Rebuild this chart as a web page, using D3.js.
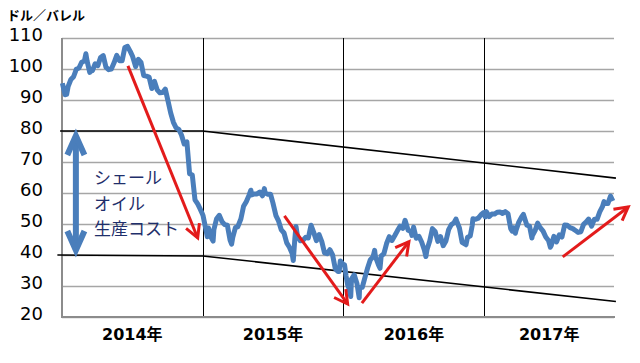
<!DOCTYPE html>
<html>
<head>
<meta charset="utf-8">
<script src="https://cdn.jsdelivr.net/npm/d3@7"></script>
<style>
  body { margin: 0; background: #fff; }
  svg { display: block; }
</style>
</head>
<body>
<div id="chart"></div>
<script>
// WTI daily-ish closes (USD / barrel)
var wti2014 = [
  ["2014-01-02", 95.4], ["2014-01-09", 91.7], ["2014-01-13", 91.8], ["2014-01-17", 94.4], ["2014-01-24", 96.6],
  ["2014-01-31", 97.5], ["2014-02-07", 99.9], ["2014-02-14", 100.3], ["2014-02-21", 102.2], ["2014-02-28", 102.6],
  ["2014-03-04", 104.9], ["2014-03-07", 102.6], ["2014-03-14", 98.9], ["2014-03-18", 99.7], ["2014-03-21", 99.5],
  ["2014-03-28", 101.7], ["2014-04-04", 101.1], ["2014-04-11", 103.7], ["2014-04-18", 104.3], ["2014-04-25", 100.6],
  ["2014-05-02", 99.8], ["2014-05-09", 100.0], ["2014-05-16", 102.0], ["2014-05-23", 104.4], ["2014-05-30", 102.7],
  ["2014-06-06", 102.7], ["2014-06-13", 106.9], ["2014-06-20", 107.3], ["2014-06-27", 105.7], ["2014-07-03", 104.1],
  ["2014-07-11", 100.8], ["2014-07-18", 103.1], ["2014-07-25", 102.1], ["2014-08-01", 97.9], ["2014-08-08", 97.7],
  ["2014-08-15", 97.4], ["2014-08-22", 93.7], ["2014-08-29", 96.0], ["2014-09-05", 93.3], ["2014-09-12", 92.3],
  ["2014-09-19", 92.4], ["2014-09-26", 93.5], ["2014-10-03", 89.7], ["2014-10-10", 85.8], ["2014-10-17", 82.8],
  ["2014-10-24", 81.0], ["2014-10-31", 80.5], ["2014-11-07", 78.7], ["2014-11-14", 75.8], ["2014-11-21", 76.5],
  ["2014-11-28", 66.2], ["2014-12-05", 65.8], ["2014-12-12", 57.8], ["2014-12-19", 56.5], ["2014-12-26", 54.7],
  ["2014-12-31", 53.3]
]
var wti2015 = [
  ["2015-01-02", 52.7], ["2015-01-09", 48.4], ["2015-01-13", 45.9], ["2015-01-16", 48.7], ["2015-01-23", 45.6],
  ["2015-01-28", 44.5], ["2015-01-30", 48.2], ["2015-02-06", 51.7], ["2015-02-13", 52.8], ["2015-02-20", 50.8],
  ["2015-02-27", 49.8], ["2015-03-06", 49.6], ["2015-03-13", 44.8], ["2015-03-17", 43.5], ["2015-03-20", 45.7],
  ["2015-03-27", 48.9], ["2015-04-02", 49.1], ["2015-04-10", 51.6], ["2015-04-17", 55.7], ["2015-04-24", 57.2],
  ["2015-05-01", 59.2], ["2015-05-06", 60.9], ["2015-05-08", 59.4], ["2015-05-15", 59.7], ["2015-05-22", 59.7],
  ["2015-05-29", 60.3], ["2015-06-05", 59.1], ["2015-06-10", 61.4], ["2015-06-12", 60.0], ["2015-06-19", 59.6],
  ["2015-06-26", 59.6], ["2015-07-02", 56.9], ["2015-07-10", 52.7], ["2015-07-17", 50.9], ["2015-07-24", 48.1],
  ["2015-07-31", 47.1], ["2015-08-07", 43.9], ["2015-08-14", 42.5], ["2015-08-21", 40.5], ["2015-08-24", 38.2],
  ["2015-08-28", 45.2], ["2015-08-31", 49.2], ["2015-09-04", 46.1], ["2015-09-11", 44.6], ["2015-09-18", 44.7],
  ["2015-09-25", 45.7], ["2015-10-02", 45.5], ["2015-10-09", 49.6], ["2015-10-16", 47.3], ["2015-10-23", 44.6],
  ["2015-10-30", 46.6], ["2015-11-06", 44.3], ["2015-11-13", 40.7], ["2015-11-20", 40.4], ["2015-11-27", 41.7],
  ["2015-12-04", 40.0], ["2015-12-11", 35.6], ["2015-12-18", 34.7], ["2015-12-21", 34.7], ["2015-12-24", 38.1],
  ["2015-12-31", 37.0]
]
var wti2016 = [
  ["2016-01-04", 36.8], ["2016-01-08", 33.2], ["2016-01-12", 30.4], ["2016-01-15", 29.4], ["2016-01-20", 26.6],
  ["2016-01-22", 32.2], ["2016-01-29", 33.6], ["2016-02-05", 30.9], ["2016-02-11", 26.2], ["2016-02-12", 29.4],
  ["2016-02-19", 29.6], ["2016-02-26", 32.8], ["2016-03-04", 35.9], ["2016-03-11", 38.5], ["2016-03-18", 39.4],
  ["2016-03-22", 41.5], ["2016-03-24", 39.5], ["2016-04-01", 36.8], ["2016-04-05", 35.7], ["2016-04-08", 39.7],
  ["2016-04-15", 40.4], ["2016-04-22", 43.7], ["2016-04-29", 45.9], ["2016-05-06", 44.7], ["2016-05-13", 46.2],
  ["2016-05-20", 47.8], ["2016-05-27", 49.3], ["2016-06-03", 48.6], ["2016-06-09", 51.2], ["2016-06-17", 48.0],
  ["2016-06-24", 47.6], ["2016-06-27", 46.3], ["2016-07-01", 49.0], ["2016-07-08", 45.4], ["2016-07-15", 46.0],
  ["2016-07-22", 44.2], ["2016-07-29", 41.6], ["2016-08-02", 39.5], ["2016-08-05", 41.8], ["2016-08-12", 44.5],
  ["2016-08-19", 48.5], ["2016-08-26", 47.6], ["2016-09-02", 44.4], ["2016-09-09", 45.9], ["2016-09-16", 43.0],
  ["2016-09-23", 44.5], ["2016-09-30", 48.2], ["2016-10-07", 49.8], ["2016-10-14", 50.4], ["2016-10-19", 51.6],
  ["2016-10-21", 50.9], ["2016-10-28", 48.7], ["2016-11-04", 44.1], ["2016-11-14", 43.3], ["2016-11-18", 45.7],
  ["2016-11-25", 46.1], ["2016-11-30", 49.4], ["2016-12-02", 51.7], ["2016-12-09", 51.5], ["2016-12-16", 51.9],
  ["2016-12-23", 53.0], ["2016-12-30", 53.7]
]
var wti2017 = [
  ["2017-01-03", 52.3], ["2017-01-06", 54.0], ["2017-01-13", 52.4], ["2017-01-20", 53.2], ["2017-01-27", 53.2],
  ["2017-02-03", 53.8], ["2017-02-10", 53.9], ["2017-02-17", 53.4], ["2017-02-24", 54.0], ["2017-03-03", 53.3],
  ["2017-03-10", 48.5], ["2017-03-14", 47.7], ["2017-03-17", 48.8], ["2017-03-22", 47.0], ["2017-03-24", 48.0],
  ["2017-03-31", 50.6], ["2017-04-07", 52.2], ["2017-04-12", 53.1], ["2017-04-21", 49.6], ["2017-04-28", 49.3],
  ["2017-05-04", 45.5], ["2017-05-05", 46.2], ["2017-05-12", 47.8], ["2017-05-19", 50.3], ["2017-05-25", 48.9],
  ["2017-06-02", 47.7], ["2017-06-09", 45.8], ["2017-06-16", 44.7], ["2017-06-21", 42.5], ["2017-06-23", 43.0],
  ["2017-06-30", 46.0], ["2017-07-07", 44.2], ["2017-07-14", 46.5], ["2017-07-21", 45.8], ["2017-07-28", 49.7],
  ["2017-08-04", 49.6], ["2017-08-11", 48.8], ["2017-08-18", 48.5], ["2017-08-25", 47.9], ["2017-09-01", 47.3],
  ["2017-09-08", 47.5], ["2017-09-15", 49.9], ["2017-09-22", 50.7], ["2017-09-28", 51.6], ["2017-10-06", 49.3],
  ["2017-10-13", 51.5], ["2017-10-20", 51.5], ["2017-10-27", 53.9], ["2017-11-03", 55.6], ["2017-11-07", 57.2],
  ["2017-11-10", 56.7], ["2017-11-17", 56.6], ["2017-11-24", 59.0], ["2017-11-30", 57.4]
]

var yTicks = [20, 30, 40, 50, 60, 70, 80, 90, 100, 110]
var yearStarts = ["2014-01-01", "2015-01-01", "2016-01-01", "2017-01-01", "2017-12-03"]
var yearLabels = ["2014年", "2015年", "2016年", "2017年"]

// shale oil production cost band (black lines)
var costTop = [["2013-12-27", 80], ["2015-01-01", 80], ["2017-12-08", 64.8]]
var costBottom = [["2013-12-20", 40], ["2015-01-01", 39.7], ["2017-12-08", 25]]
var costRange = [["2014-02-06", 79.4], ["2014-02-06", 40.6]]
var costText = ["シェール", "オイル", "生産コスト"]

// red trend arrows
var moves = [
  [["2014-06-21", 101], ["2014-12-19", 45.5]],
  [["2015-08-01", 52.6], ["2016-01-12", 24.2]],
  [["2016-02-18", 24.5], ["2016-06-19", 44.3]],
  [["2017-07-23", 39.4], ["2018-01-09", 55.5]]
]

const W = 640, H = 363
const plot = { left: 62, right: 614, top: 38, bottom: 317 }
const parse = d3.timeParse("%Y-%m-%d")

var x = d3.scaleTime().domain([parse("2014-01-01"), parse("2017-12-03")]).range([plot.left, plot.right])
var y = d3.scaleLinear().domain([20, 110]).range([plot.bottom, plot.top])

var svg = d3.select('#chart').append('svg')
  .attr('width', W)
  .attr('height', H)

// horizontal grid + y labels
var yAxis = d3.axisLeft(y).tickValues(yTicks).tickSize(-(plot.right - plot.left)).tickPadding(19).tickFormat(d => d)
var gy = svg.append('g').attr('transform', 'translate(' + plot.left + ',0)').call(yAxis)
gy.select('.domain').remove()
gy.selectAll('line').attr('stroke', '#a6a6a6').attr('stroke-width', 1.3)
gy.selectAll('text')
  .attr('dy', '0.15em')
  .style('font-family', 'DejaVu Sans, sans-serif')
  .style('font-size', '18px')
  .attr('fill', '#000')

// year separators
svg.append('g').selectAll('line')
  .data(yearStarts.slice(1, 4))
  .enter().append('line')
  .attr('x1', d => Math.round(x(parse(d))) + 0.5)
  .attr('x2', d => Math.round(x(parse(d))) + 0.5)
  .attr('y1', plot.top)
  .attr('y2', plot.bottom)
  .attr('stroke', '#000')
  .attr('stroke-width', 1)

// axes lines (gray)
svg.append('line').attr('x1', plot.left).attr('x2', plot.left).attr('y1', plot.top).attr('y2', plot.bottom + 1)
  .attr('stroke', '#8c8c8c').attr('stroke-width', 2)
svg.append('line').attr('x1', plot.left).attr('x2', plot.right + 1).attr('y1', plot.bottom).attr('y2', plot.bottom)
  .attr('stroke', '#8c8c8c').attr('stroke-width', 2)

// year labels
svg.append('g').selectAll('text')
  .data(yearLabels)
  .enter().append('text')
  .attr('x', (d, i) => (x(parse(yearStarts[i])) + x(parse(yearStarts[i + 1]))) / 2)
  .attr('y', 340)
  .attr('text-anchor', 'middle')
  .style('font-family', 'DejaVu Sans, Noto Sans CJK JP, sans-serif')
  .style('font-weight', 'bold')
  .style('font-size', '16px')
  .text(d => d)

// unit label
svg.append('text')
  .attr('x', 7).attr('y', 20)
  .style('font-family', 'Noto Sans CJK JP, sans-serif')
  .style('font-weight', 'bold')
  .style('font-size', '13px')
  .text('ドル／バレル')

var line = d3.line().x(d => x(parse(d[0]))).y(d => y(d[1]))

// cost band lines
svg.append('g').selectAll('path')
  .data([costTop, costBottom])
  .enter().append('path')
  .attr('d', line)
  .attr('fill', 'none')
  .attr('stroke', '#000')
  .attr('stroke-width', 1.6)

// price line
var prices = wti2014.concat(wti2015, wti2016, wti2017)
svg.append('path')
  .datum(prices)
  .attr('d', line)
  .attr('fill', 'none')
  .attr('stroke', '#4a7ebb')
  .attr('stroke-width', 5)
  .attr('stroke-linejoin', 'round')

// arrow heads drawn as open chevrons at pixel tip
function chevron(tip, from, len, half) {
  var a = Math.atan2(tip[1] - from[1], tip[0] - from[0])
  return [
    [tip[0] - len * Math.cos(a - half), tip[1] - len * Math.sin(a - half)],
    tip,
    [tip[0] - len * Math.cos(a + half), tip[1] - len * Math.sin(a + half)]
  ]
}

var arrows = svg.append('g')
moves.forEach(m => {
  var p0 = [x(parse(m[0][0])), y(m[0][1])]
  var p1 = [x(parse(m[1][0])), y(m[1][1])]
  arrows.append('line')
    .attr('x1', p0[0]).attr('y1', p0[1]).attr('x2', p1[0]).attr('y2', p1[1])
    .attr('stroke', '#e31b1b').attr('stroke-width', 3)
  arrows.append('path')
    .attr('d', d3.line()(chevron(p1, p0, 15, 0.5)))
    .attr('fill', 'none').attr('stroke', '#e31b1b').attr('stroke-width', 3)
    .attr('stroke-linejoin', 'miter')
})

// double headed blue arrow for cost range
var c0 = [x(parse(costRange[0][0])), y(costRange[0][1])]
var c1 = [x(parse(costRange[1][0])), y(costRange[1][1])]
svg.append('line')
  .attr('x1', c0[0]).attr('y1', c0[1] + 3).attr('x2', c1[0]).attr('y2', c1[1] - 3)
  .attr('stroke', '#4a7ebb').attr('stroke-width', 6)
;[[c0, c1], [c1, c0]].forEach(pair => {
  var tip = [pair[0][0], pair[0][1] + (pair[0][1] < pair[1][1] ? 3 : -3)]
  svg.append('path')
    .attr('d', d3.line()(chevron(tip, pair[1], 21, 0.42)))
    .attr('fill', 'none').attr('stroke', '#4a7ebb').attr('stroke-width', 6)
    .attr('stroke-linejoin', 'miter')
})

// cost label
svg.append('g').selectAll('text')
  .data(costText)
  .enter().append('text')
  .attr('x', 94)
  .attr('y', (d, i) => 184 + i * 25.5)
  .style('font-family', 'Noto Sans CJK JP, sans-serif')
  .style('font-size', '17px')
  .attr('fill', '#1f2f6b')
  .text(d => d)
</script>
</body>
</html>
